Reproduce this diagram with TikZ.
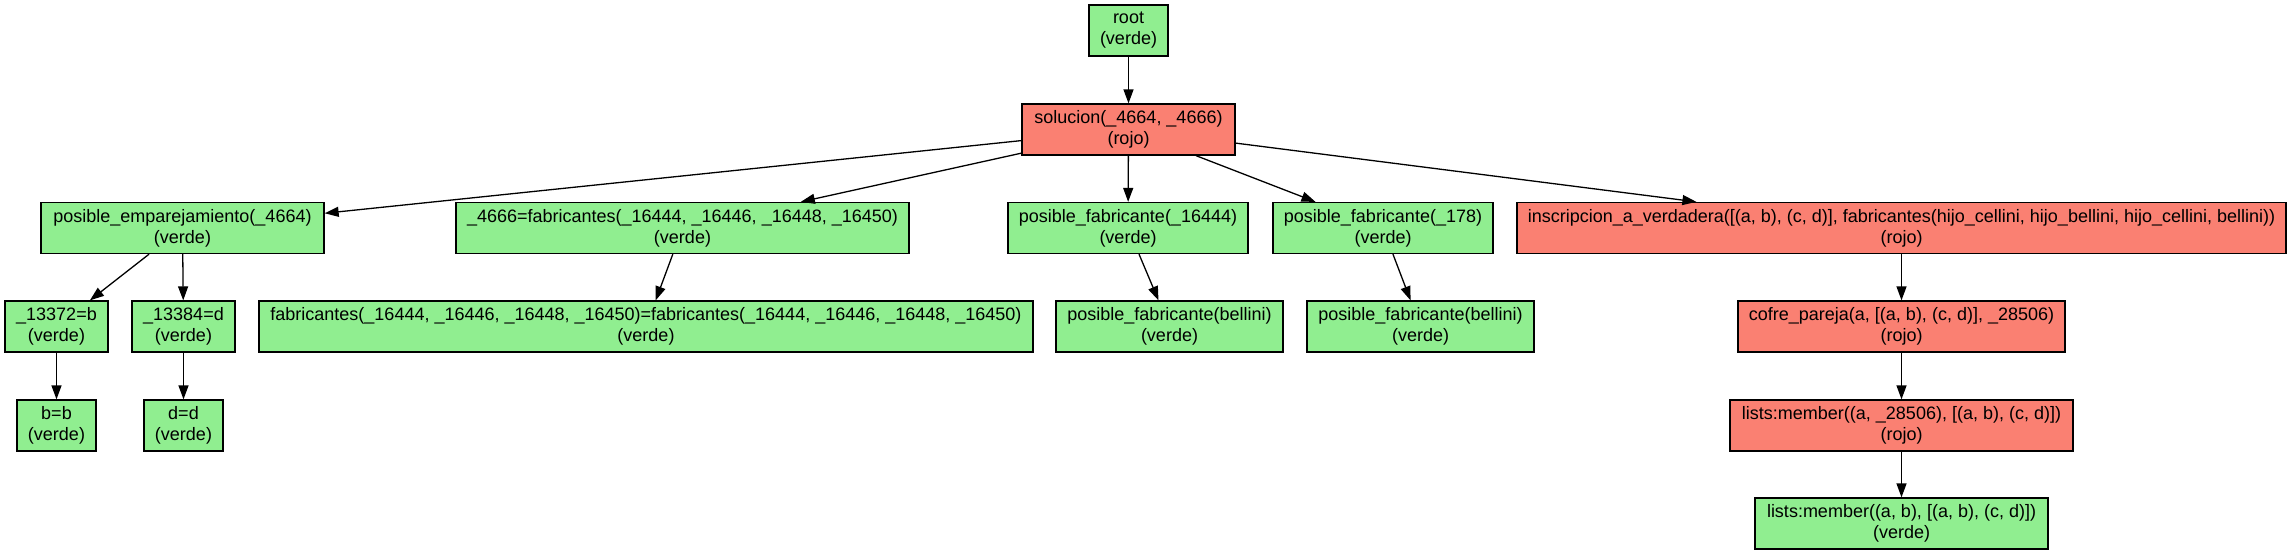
\documentclass[tikz,border=0pt]{standalone}
\usepackage{fontspec}
\setmainfont{Liberation Sans}
\usetikzlibrary{arrows.meta}
\definecolor{verde}{RGB}{144,238,144}
\definecolor{rojo}{RGB}{250,128,114}
\begin{document}
\begin{tikzpicture}[x=1pt,y=-1pt,
  box/.style={draw=black, line width=1.3pt, inner sep=0pt, align=center,
    font=\fontsize{18}{21}\selectfont, minimum height=51pt},
  gbox/.style={box, fill=verde},
  rbox/.style={box, fill=rojo},
  edge/.style={draw=black, line width=1.3pt, -{Triangle[length=14pt,width=10pt]}}]
\useasboundingbox (0,0) rectangle (2292,555);
% level 0,1
\node[gbox, minimum width=79pt] (root) at (1128.5,30.5) {root\\(verde)};
\node[rbox, minimum width=213pt] (sol) at (1128.5,129.5) {solucion(\_4664, \_4666)\\(rojo)};
% level 2
\node[gbox, minimum width=283pt] (pe) at (182.5,228) {posible\_emparejamiento(\_4664)\\(verde)};
\node[gbox, minimum width=453pt] (eq) at (682.5,228) {\_4666=fabricantes(\_16444, \_16446, \_16448, \_16450)\\(verde)};
\node[gbox, minimum width=240pt] (pfa) at (1128,228) {posible\_fabricante(\_16444)\\(verde)};
\node[gbox, minimum width=220pt] (pfb) at (1383,228) {posible\_fabricante(\_178)\\(verde)};
\node[rbox, minimum width=769pt] (ins) at (1901.5,228) {inscripcion\_a\_verdadera([(a, b), (c, d)], fabricantes(hijo\_cellini, hijo\_bellini, hijo\_cellini, bellini))\\(rojo)};
% level 3
\node[gbox, minimum width=103pt] (u1) at (56.5,326.5) {\_13372=b\\(verde)};
\node[gbox, minimum width=103pt] (u2) at (183.5,326.5) {\_13384=d\\(verde)};
\node[gbox, minimum width=774pt] (fab) at (646,326.5) {fabricantes(\_16444, \_16446, \_16448, \_16450)=fabricantes(\_16444, \_16446, \_16448, \_16450)\\(verde)};
\node[gbox, minimum width=227pt] (pb1) at (1169.5,326.5) {posible\_fabricante(bellini)\\(verde)};
\node[gbox, minimum width=227pt] (pb2) at (1420.5,326.5) {posible\_fabricante(bellini)\\(verde)};
\node[rbox, minimum width=327pt] (cof) at (1901.5,326.5) {cofre\_pareja(a, [(a, b), (c, d)], \_28506)\\(rojo)};
% level 4
\node[gbox, minimum width=79pt] (bb) at (56.5,425.5) {b=b\\(verde)};
\node[gbox, minimum width=79pt] (dd) at (183.5,425.5) {d=d\\(verde)};
\node[rbox, minimum width=343pt] (lm1) at (1901.5,425.5) {lists:member((a, \_28506), [(a, b), (c, d)])\\(rojo)};
% level 5
\node[gbox, minimum width=293pt] (lm2) at (1901.5,523.5) {lists:member((a, b), [(a, b), (c, d)])\\(verde)};
% edges
\draw[edge] (root) -- (sol);
\draw[edge] (sol) -- (pe);
\draw[edge] (sol) -- (eq);
\draw[edge] (sol) -- (pfa);
\draw[edge] (sol) -- (pfb);
\draw[edge] (sol) -- (ins);
\draw[edge] (pe) -- (u1);
\draw[edge] (pe) -- (u2);
\draw[edge] (eq) -- (fab);
\draw[edge] (pfa) -- (pb1);
\draw[edge] (pfb) -- (pb2);
\draw[edge] (ins) -- (cof);
\draw[edge] (u1) -- (bb);
\draw[edge] (u2) -- (dd);
\draw[edge] (cof) -- (lm1);
\draw[edge] (lm1) -- (lm2);
\end{tikzpicture}
\end{document}
